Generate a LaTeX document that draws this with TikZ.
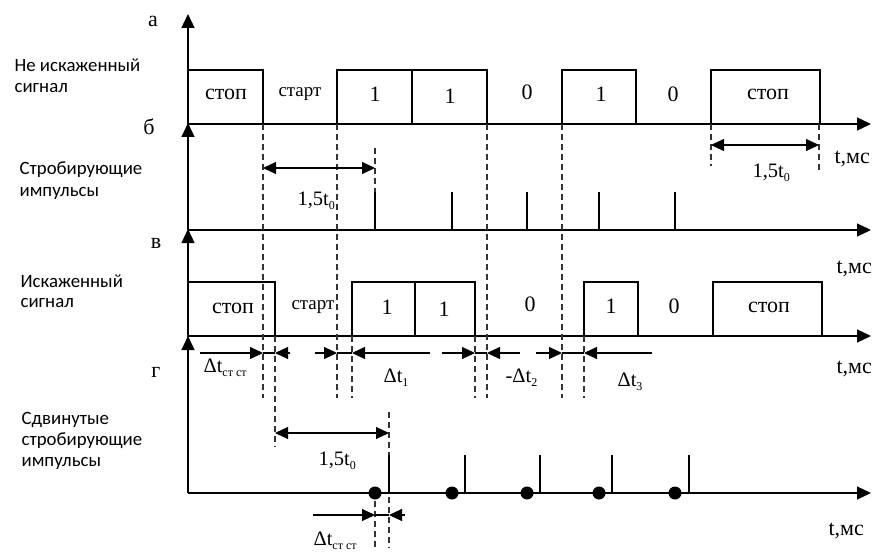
\documentclass[tikz,border=0pt]{standalone}
\usepackage{fontspec}
\setmainfont{Liberation Serif}
\newfontfamily\lblfont{Carlito}
\usetikzlibrary{arrows.meta}
\newcommand\mysub[1]{\raisebox{-0.22em}{\fontsize{12}{13}\selectfont #1}}
\begin{document}
\begin{tikzpicture}[x=1pt,y=-1pt, line width=1.2pt,
  axisarrow/.style={-{Triangle[length=14pt,width=13pt]}},
  dimarr/.style={{Triangle[length=13pt,width=12pt]}-{Triangle[length=13pt,width=12pt]}},
  tipr/.style={-{Triangle[length=13pt,width=12pt]}},
  guide/.style={dash pattern=on 6pt off 4pt, line width=1.1pt, black!80},
  sigbox/.style={draw, line width=1.2pt},
  lbl/.style={font=\lblfont\fontsize{18.8}{22}\selectfont, anchor=base west, inner sep=0pt},
  big/.style={font=\fontsize{22}{26}\selectfont, anchor=base, inner sep=0pt},
  tms/.style={font=\fontsize{22}{26}\selectfont, anchor=base west, inner sep=0pt},
  dim/.style={font=\fontsize{20.5}{24}\selectfont, anchor=base west, inner sep=0pt},
  small/.style={font=\fontsize{19}{22}\selectfont, anchor=base, inner sep=0pt},
  ]
\useasboundingbox (0,0) rectangle (894,559);
% origins and axis ends
\coordinate (Oa) at (188,124); \coordinate (Ea) at (871,124); \coordinate (Ta) at (188,14);
\coordinate (Ob) at (188,230); \coordinate (Eb) at (871,230); \coordinate (Tb) at (188,123);
\coordinate (Ov) at (188,336); \coordinate (Ev) at (871,336); \coordinate (Tv) at (188,229);
\coordinate (Og) at (188,493); \coordinate (Eg) at (871,493); \coordinate (Tg) at (188,336);
% axes
\draw[axisarrow] (Oa) -- (Ta);
\draw[axisarrow] (Oa) -- (Ea);
\draw[axisarrow] (Ob) -- (Tb);
\draw[axisarrow] (Ob) -- (Eb);
\draw[axisarrow] (Ov) -- (Tv);
\draw[axisarrow] (Ov) -- (Ev);
\draw[axisarrow] (Og) -- (Tg);
\draw[axisarrow] (Og) -- (Eg);
% axis letters
\node[big] (la) at (153,27) {а};
\node[big] (lb) at (149,135) {б};
\node[big] (lv) at (156,248) {в};
\node[big] (lg) at (156,377) {г};
% t,ms
\node[tms] (t1) at (834,164) {t,мс};
\node[tms] (t2) at (836,273) {t,мс};
\node[tms] (t3) at (836,373) {t,мс};
\node[tms] (t4) at (828,535) {t,мс};
% left labels
\node[lbl] (L1a) at (14,72) {Не искаженный};
\node[lbl] (L1b) at (14,93) {сигнал};
\node[lbl] (L2a) at (19,175) {Стробирующие};
\node[lbl] (L2b) at (19,196) {импульсы};
\node[lbl] (L3a) at (20,287) {Искаженный};
\node[lbl] (L3b) at (20,307) {сигнал};
\node[lbl] (L4a) at (21,424) {Сдвинутые};
\node[lbl] (L4b) at (21,445) {стробирующие};
\node[lbl] (L4c) at (21,466) {импульсы};
% ---------- signal a ----------
\draw[sigbox] (188,124) rectangle (263,70);
\draw[sigbox] (337,124) rectangle (412,70);
\draw[sigbox] (412,124) rectangle (487,70);
\draw[sigbox] (562,124) rectangle (636,70);
\draw[sigbox] (711,124) rectangle (820,70);
\node[big] (a1) at (226,100) {стоп};
\node[small] (a2) at (300,97) {старт};
\node[big] (a3) at (375,102) {1};
\node[big] (a4) at (450,104) {1};
\node[big] (a5) at (527,100) {0};
\node[big] (a6) at (601,102) {1};
\node[big] (a7) at (673,102) {0};
\node[big] (a8) at (768,100) {стоп};
% ---------- signal v (distorted) ----------
\draw[sigbox] (188,336) rectangle (275,282);
\draw[sigbox] (352,336) rectangle (415,282);
\draw[sigbox] (415,336) rectangle (475,282);
\draw[sigbox] (584,336) rectangle (638,282);
\draw[sigbox] (713,336) rectangle (822,282);
\node[big] (v1) at (233,313) {стоп};
\node[small] (v2) at (313,309) {старт};
\node[big] (v3) at (387,314) {1};
\node[big] (v4) at (444,316) {1};
\node[big] (v5) at (530,311) {0};
\node[big] (v6) at (611,313) {1};
\node[big] (v7) at (674,313) {0};
\node[big] (v8) at (769,312) {стоп};
% ---------- dashed guides ----------
\foreach \x in {263,337,487,562} \draw[guide] (\x,124) -- (\x,398);
\foreach \x in {352,475,584} \draw[guide] (\x,336) -- (\x,398);
\draw[guide] (275,336) -- (275,447);
\draw[guide] (375,148) -- (375,192);
\draw[guide] (711,124) -- (711,166);
\draw[guide] (819,124) -- (819,170);
\draw[guide] (389,412) -- (389,455);
\draw[guide] (389,497) -- (389,548);
\draw[guide] (375,501) -- (375,548);
% ---------- strobe pulses b ----------
\foreach \x in {375,452,527,599,675} \draw (\x,192) -- (\x,230);
% ---------- shifted pulses g ----------
\foreach \x in {389,465,540,612,689} \draw (\x,455) -- (\x,493);
\foreach \x in {375,452,527,599,675} \fill (\x,493) circle (6.5pt);
% ---------- dimension arrows ----------
\coordinate (d1a) at (263,168); \coordinate (d1b) at (375,168);
\draw[dimarr, line width=1.1pt] (d1a) -- (d1b);
\node[dim] (d1l) at (297,205) {1,5t\mysub{0}};
\coordinate (d2a) at (711,145); \coordinate (d2b) at (819,145);
\draw[dimarr, line width=1.1pt] (d2a) -- (d2b);
\node[dim] (d2l) at (752,177) {1,5t\mysub{0}};
\coordinate (d3a) at (275,433); \coordinate (d3b) at (389,433);
\draw[dimarr, line width=1.1pt] (d3a) -- (d3b);
\node[dim] (d3l) at (318,465) {1,5t\mysub{0}};
% delta row
\begin{scope}[line width=1.1pt]
\draw[tipr] (200,353) -- (263,353); \draw (263,353) -- (275,353); \draw[tipr] (290,353) -- (275,353);
\draw[tipr] (315,353) -- (337,353); \draw (337,353) -- (352,353); \draw[tipr] (430,353) -- (352,353);
\draw[tipr] (442,353) -- (475,353); \draw (475,353) -- (487,353); \draw[tipr] (520,353) -- (487,353);
\draw[tipr] (536,353) -- (562,353); \draw (562,353) -- (584,353); \draw[tipr] (652,353) -- (584,353);
\draw[tipr] (313,515) -- (375,515); \draw (375,515) -- (389,515); \draw[tipr] (405,515) -- (389,515);
\end{scope}
\node[dim] (e1) at (203,372) {Δt\mysub{ст ст}};
\node[dim] (e2) at (383,382) {Δt\mysub{1}};
\node[dim] (e3) at (505,382) {-Δt\mysub{2}};
\node[dim] (e4) at (617,386) {Δt\mysub{3}};
\node[dim] (e5) at (313,545) {Δt\mysub{ст ст}};
\end{tikzpicture}
\end{document}
